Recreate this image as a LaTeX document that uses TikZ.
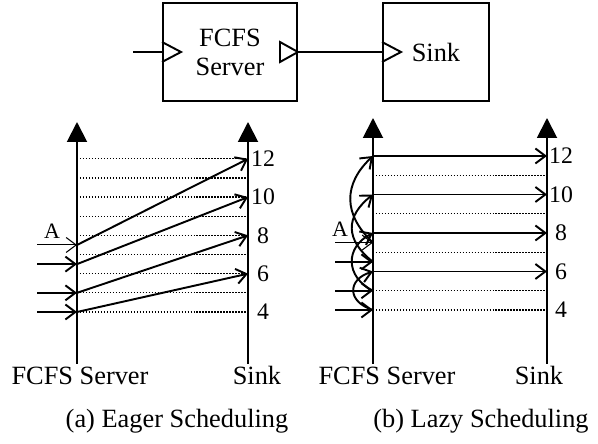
\documentclass[tikz,border=0pt]{standalone}
\usepackage{fontspec}
\setmainfont{Liberation Serif}
\usepackage{tikz}
\usetikzlibrary{arrows.meta, positioning}
\tikzset{
  blk/.style={
    rectangle, draw, line width=1.1pt,
    font=\fontsize{15}{16.5}\selectfont, align=center,
    inner sep=0pt, minimum height=19.6mm,
  },
  wire/.style={line width=1.1pt},
  port/.style={line width=1.1pt, line join=miter},
  axis/.style={-{Triangle[length=4mm,width=4mm]}, line width=1.1pt},
  grid/.style={line width=0.7pt, dash pattern=on 0.7pt off 1pt},
  arr/.style={-{Straight Barb[length=2mm,width=3mm]}, line width=1.1pt},
  arrA/.style={-{Straight Barb[length=2mm,width=3mm]}, line width=0.6pt},
  num/.style={font=\fontsize{13.5}{15}\selectfont, inner sep=0pt},
  lbl/.style={font=\fontsize{15}{17}\selectfont, inner sep=0pt, anchor=base},
  alab/.style={font=\fontsize{12.5}{14}\selectfont, inner sep=0pt},
}
\begin{document}
\begin{tikzpicture}[x=0.2mm,y=-0.2mm]
  \useasboundingbox (0,0) rectangle (598,444);
  % top model
  \node[blk, minimum width=26.8mm] (srv) at (230,52) {FCFS\\Server};
  \node[blk, minimum width=21.2mm] (snk) at (436,52) {Sink};
  \coordinate (src) at (133,52);
  \draw[wire] (src) -- (srv.west);
  \draw[wire] (srv.east) -- (snk.west);
  \draw[port] (srv.west) ++(0,-10) -- ++(19,10) -- ++(-19,10);
  \draw[port] (snk.west) ++(0,-10) -- ++(19,10) -- ++(-19,10);
  \draw[port] (srv.east) ++(-18,-10) -- ++(18,10) -- ++(-18,10) -- cycle;

  % (a) eager
  \foreach \t in {4,...,12}{
    \pgfmathsetmacro\yy{312-(\t-4)*19.15}
    \coordinate (ea\t) at (77,\yy);
    \coordinate (eb\t) at (248,\yy);
    \draw[grid] (ea\t) -- (eb\t);
  }
  \coordinate (ea0) at (77,364);   \coordinate (eaT) at (77,122);
  \coordinate (eb0) at (248,364);  \coordinate (ebT) at (248,122);
  \draw[axis] (ea0) -- (eaT);
  \draw[axis] (eb0) -- (ebT);
  \foreach \i/\t in {1/4,2/5,3/6.5,4/7.5}{
    \pgfmathsetmacro\yy{312-(\t-4)*19.15}
    \coordinate (eq\i) at (77,\yy);
    \coordinate (ei\i) at (37,\yy);
  }
  \foreach \i in {1,2,3} \draw[arr] (ei\i) -- (eq\i);
  \draw[arrA] (ei4) -- (eq4);
  \node[alab] (eA) at (52,231) {A};
  \foreach \i/\d in {1/6,2/8,3/10,4/12} \draw[arr] (eq\i) -- (eb\d);
  \foreach \d in {4,6,8,10,12} \node[num] (en\d) at ([xshift=3mm]eb\d) {\d};
  \node[lbl] (esrv) at (80,385) {FCFS Server};
  \node[lbl] (esnk) at (257,385) {Sink};
  \node[lbl] (ecap) at (177,428) {(a) Eager Scheduling};

  % (b) lazy
  \foreach \t in {4,...,12}{
    \pgfmathsetmacro\yy{310-(\t-4)*19.25}
    \coordinate (la\t) at (373,\yy);
    \coordinate (lb\t) at (547,\yy);
    \draw[grid] (la\t) -- (lb\t);
  }
  \coordinate (la0) at (373,364);  \coordinate (laT) at (373,118);
  \coordinate (lb0) at (547,364);  \coordinate (lbT) at (547,118);
  \draw[axis] (la0) -- (laT);
  \draw[axis] (lb0) -- (lbT);
  \foreach \i/\t in {1/4,2/5,3/6.5,4/7.5}{
    \pgfmathsetmacro\yy{310-(\t-4)*19.25}
    \coordinate (lq\i) at (373,\yy);
    \coordinate (li\i) at (335,\yy);
  }
  \foreach \i in {1,2,3} \draw[arr] (li\i) -- (lq\i);
  \draw[arrA] (li4) -- (lq4);
  \node[alab] (lA) at (340,229) {A};
  \draw[arr] (lq1) .. controls +(-26,-8) and +(-26,8) .. (la6);
  \draw[arr] (lq2) .. controls +(-28,-14) and +(-28,14) .. (la8);
  \draw[arr] (lq3) .. controls +(-28,-22) and +(-28,22) .. (la10);
  \draw[arr] (lq4) .. controls +(-30,-28) and +(-30,28) .. (la12);
  \foreach \d in {6,8,10,12} \draw[arr] (la\d) -- (lb\d);
  \foreach \d in {4,6,8,10,12} \node[num] (ln\d) at ([xshift=2.8mm]lb\d) {\d};
  \node[lbl] (lsrv) at (387,385) {FCFS Server};
  \node[lbl] (lsnk) at (539,385) {Sink};
  \node[lbl] (lcap) at (481,428) {(b) Lazy Scheduling};
\end{tikzpicture}
\end{document}
